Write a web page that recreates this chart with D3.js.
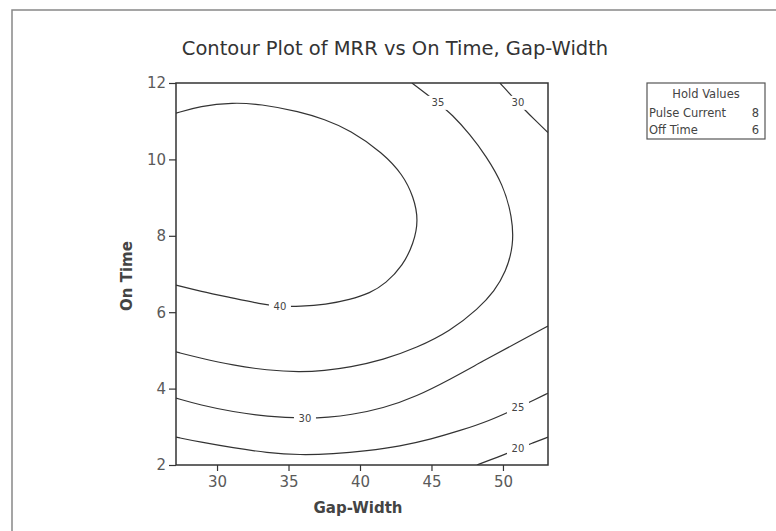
<!DOCTYPE html>
<html>
<head>
<meta charset="utf-8">
<script src="https://cdn.jsdelivr.net/npm/d3@7"></script>
<style>
  body { margin: 0; background: #fff; }
  svg { display: block; font-family: "DejaVu Sans", sans-serif; }
</style>
</head>
<body>
<div id="chart"></div>
<script>
// contour lines, as [Gap-Width, On Time]
const levels = [20, 25, 30, 35, 40];

const contour40 = [
    [27.13, 6.71], [28.81, 6.55], [31.12, 6.37], [33.0, 6.22], [34.4, 6.15],
    [35.8, 6.15], [37.6, 6.2], [39.3, 6.33], [40.7, 6.5], [41.8, 6.75],
    [43.0, 7.22], [43.75, 7.8], [44.1, 8.41], [43.75, 9.02], [43.0, 9.6],
    [41.6, 10.17], [39.3, 10.77], [37.5, 11.05], [35.8, 11.25], [33.0, 11.45],
    [31.12, 11.49], [28.81, 11.4], [27.13, 11.21]
];
const contour35 = [
    [43.63, 12.0], [45.45, 11.48], [46.43, 11.18], [47.7, 10.65], [48.8, 10.1],
    [50.0, 9.35], [50.65, 8.5], [50.75, 7.75], [50.2, 7.05], [49.4, 6.55],
    [48.3, 6.1], [46.29, 5.5], [43.98, 5.07], [41.61, 4.75], [39.3, 4.56],
    [37.5, 4.47], [35.8, 4.43], [33.49, 4.48], [31.12, 4.61], [28.81, 4.8],
    [27.13, 4.96]
];
const contour30Top = [
    [49.79, 12.0], [51.05, 11.48], [51.75, 11.21], [53.15, 10.7]
];
const contour30Bottom = [
    [27.13, 3.75], [28.81, 3.57], [31.12, 3.39], [33.49, 3.27], [36.15, 3.22],
    [37.8, 3.25], [39.3, 3.31], [41.61, 3.48], [43.98, 3.8], [46.29, 4.24],
    [48.6, 4.72], [50.98, 5.2], [53.15, 5.64]
];
const contour25 = [
    [27.13, 2.73], [28.81, 2.6], [31.12, 2.45], [33.49, 2.32], [35.8, 2.26],
    [38.11, 2.29], [40.49, 2.37], [42.8, 2.49], [45.0, 2.68], [47.0, 2.9],
    [49.0, 3.15], [51.05, 3.5], [52.1, 3.69], [53.15, 3.88]
];
const contour20 = [
    [48.18, 2.0], [49.09, 2.13], [50.14, 2.28], [51.05, 2.42], [52.1, 2.58],
    [53.15, 2.73]
];

// where each level is written on its line
const labelText = ['40', '35', '30', '30', '25', '20'];
const labelGap = [34.4, 45.45, 51.05, 36.15, 51.05, 51.05];
const labelTime = [6.15, 11.48, 11.48, 3.22, 3.5, 2.42];

const xTicks = [30, 35, 40, 45, 50];
const yTicks = [2, 4, 6, 8, 10, 12];
const xDomain = [27.13, 53.15];
const yDomain = [2, 12];

const holdNames = ['Pulse Current', 'Off Time'];
const holdValues = [8, 6];

const width = 776, height = 531;
const plot = { left: 176, top: 83, right: 548, bottom: 465 };
const ink = '#333';

const svg = d3.select('#chart').append('svg')
    .attr('width', width)
    .attr('height', height);

// frame of the scanned page
svg.append('path')
    .attr('d', `M12,${height} V10 H${width}`)
    .attr('fill', 'none')
    .attr('stroke', '#888')
    .attr('stroke-width', 1.5);

const x = d3.scaleLinear().domain(xDomain).range([plot.left, plot.right]);
const y = d3.scaleLinear().domain(yDomain).range([plot.bottom, plot.top]);

svg.append('text')
    .attr('x', 395)
    .attr('y', 55)
    .attr('text-anchor', 'middle')
    .attr('font-size', 19.5)
    .attr('fill', ink)
    .text('Contour Plot of MRR vs On Time, Gap-Width');

svg.append('clipPath')
    .attr('id', 'plotClip')
  .append('rect')
    .attr('x', plot.left)
    .attr('y', plot.top)
    .attr('width', plot.right - plot.left)
    .attr('height', plot.bottom - plot.top);

const line = d3.line()
    .x(d => x(d[0]))
    .y(d => y(d[1]))
    .curve(d3.curveBasis);

const lines = [contour40, contour35, contour30Top, contour30Bottom, contour25, contour20];

const g = svg.append('g').attr('clip-path', 'url(#plotClip)');

g.selectAll('path.contour')
    .data(lines)
    .enter()
    .append('path')
        .attr('class', 'contour')
        .attr('d', line)
        .attr('fill', 'none')
        .attr('stroke', ink)
        .attr('stroke-width', 1.2);

// labels sit in a gap cut out of the line
const labels = g.selectAll('g.lbl')
    .data(labelText)
    .enter()
    .append('g')
        .attr('class', 'lbl')
        .attr('transform', (d, i) => `translate(${x(labelGap[i])},${y(labelTime[i])})`);

labels.append('rect')
    .attr('x', -11)
    .attr('y', -7)
    .attr('width', 22)
    .attr('height', 14)
    .attr('fill', '#fff');

labels.append('text')
    .attr('text-anchor', 'middle')
    .attr('dy', '0.35em')
    .attr('font-size', 10)
    .attr('fill', '#444')
    .text(d => d);

svg.append('rect')
    .attr('x', plot.left)
    .attr('y', plot.top)
    .attr('width', plot.right - plot.left)
    .attr('height', plot.bottom - plot.top)
    .attr('fill', 'none')
    .attr('stroke', ink)
    .attr('stroke-width', 1.5);

const xAxis = svg.append('g')
    .attr('transform', `translate(0,${plot.bottom})`)
    .call(d3.axisBottom(x).tickValues(xTicks).tickSize(6).tickPadding(5));

const yAxis = svg.append('g')
    .attr('transform', `translate(${plot.left},0)`)
    .call(d3.axisLeft(y).tickValues(yTicks).tickSize(7).tickPadding(3));

[xAxis, yAxis].forEach(a => {
    a.select('.domain').remove();
    a.selectAll('line').attr('stroke', ink).attr('stroke-width', 1.2);
    a.selectAll('text')
        .attr('font-family', '"DejaVu Sans", sans-serif')
        .attr('font-size', 15)
        .attr('fill', '#5a5a5a');
});

svg.append('text')
    .attr('x', 358)
    .attr('y', 513)
    .attr('text-anchor', 'middle')
    .attr('font-size', 15)
    .attr('font-weight', 'bold')
    .attr('fill', '#444')
    .text('Gap-Width');

svg.append('text')
    .attr('transform', 'translate(132,276) rotate(-90)')
    .attr('text-anchor', 'middle')
    .attr('font-size', 15)
    .attr('font-weight', 'bold')
    .attr('fill', '#444')
    .text('On Time');

// hold values box
const legend = svg.append('g').attr('transform', 'translate(647,83)');

legend.append('rect')
    .attr('width', 118)
    .attr('height', 56)
    .attr('fill', '#fff')
    .attr('stroke', '#555')
    .attr('stroke-width', 1.2);

legend.append('text')
    .attr('x', 59)
    .attr('y', 15)
    .attr('text-anchor', 'middle')
    .attr('font-size', 11.5)
    .attr('fill', '#444')
    .text('Hold Values');

holdNames.forEach((name, i) => {
    legend.append('text')
        .attr('x', 2)
        .attr('y', 34 + i * 17)
        .attr('font-size', 11.5)
        .attr('fill', '#444')
        .text(name);
    legend.append('text')
        .attr('x', 112)
        .attr('y', 34 + i * 17)
        .attr('text-anchor', 'end')
        .attr('font-size', 11.5)
        .attr('fill', '#444')
        .text(holdValues[i]);
});
</script>
</body>
</html>
